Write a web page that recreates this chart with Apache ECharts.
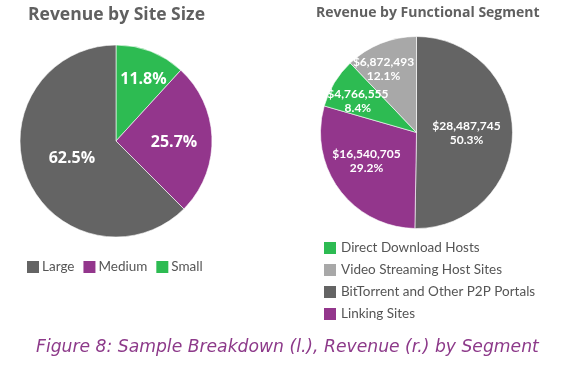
<!DOCTYPE html>
<html>
<head>
<meta charset="utf-8">
<script src="https://cdn.jsdelivr.net/npm/echarts@6/dist/echarts.min.js"></script>
<style>html,body{margin:0;padding:0;background:#fff;}#c{width:566px;height:366px;}</style>
</head>
<body>
<div id="c"></div>
<script>
// Left pie: Revenue by Site Size (percent)
var sizeCategories = ['Small', 'Medium', 'Large'];
var sizeValues = [11.8, 25.7, 62.5];
var sizeLegendOrder = ['Large', 'Medium', 'Small'];

// Right pie: Revenue by Functional Segment (USD)
var segCategories = ['BitTorrent and Other P2P Portals', 'Linking Sites', 'Direct Download Hosts', 'Video Streaming Host Sites'];
var segValues = [28487745, 16540705, 4766555, 6872493];
var segLegendOrder = ['Direct Download Hosts', 'Video Streaming Host Sites', 'BitTorrent and Other P2P Portals', 'Linking Sites'];

var C_DARK = '#646464', C_PURPLE = '#93368c', C_GREEN = '#2dbb52', C_LIGHT = '#a8a8a8';
var sizeColors = [C_GREEN, C_PURPLE, C_DARK];
var segColors = [C_DARK, C_PURPLE, C_GREEN, C_LIGHT];
var sizeOffsets = [[9, -14], [7, 3], [3, -2]];
var segOffsets = [[-1, 0], [-9, -2], [-15, -5], [-14, -16]];

var FONT = 'Lato';
var TFONT = 'Open Sans';
function fmtMoney(v) { return '$' + v.toLocaleString('en-US'); }

var chart = echarts.init(document.getElementById('c'), null, {renderer: 'canvas'});
chart.setOption({
  animation: false,
  backgroundColor: '#fff',
  title: [
    {text: 'Revenue by Site Size', left: 28, top: 6, padding: 0,
     textStyle: {fontFamily: TFONT, fontWeight: 'bold', fontSize: 17.5, color: '#606060'}},
    {text: 'Revenue by Functional Segment', left: 316, top: 6, padding: 0,
     textStyle: {fontFamily: TFONT, fontWeight: 'bold', fontSize: 14, color: '#606060'}},
    {text: 'Figure 8: Sample Breakdown (l.), Revenue (r.) by Segment', left: 36, top: 339, padding: 0,
     textStyle: {fontFamily: 'DejaVu Sans', fontStyle: 'italic', fontWeight: 'normal', fontSize: 17.2, color: '#8d3a8a'}}
  ],
  legend: [
    {data: sizeLegendOrder, left: 27, top: 260, padding: 0, orient: 'horizontal', icon: 'rect',
     itemWidth: 12, itemHeight: 12, itemGap: 9, itemStyle: {borderWidth: 0},
     textStyle: {fontFamily: FONT, fontSize: 13.5, color: '#555', padding: [0, 0, 0, -2]}},
    {data: segLegendOrder, left: 324, top: 241, padding: 0, orient: 'vertical', icon: 'rect',
     itemWidth: 12, itemHeight: 12, itemGap: 8, itemStyle: {borderWidth: 0},
     textStyle: {fontFamily: FONT, fontSize: 13.5, color: '#555', padding: [0, 0, 0, 0]}}
  ],
  series: [
    {type: 'pie', radius: 96, center: [116, 141], startAngle: 90, clockwise: true,
     silent: true, labelLine: {show: false},
     itemStyle: {borderColor: '#fff', borderWidth: 0.6},
     label: {position: 'inside', formatter: '{c}%', color: '#fff', fontFamily: TFONT, fontWeight: 'bold', fontSize: 16},
     data: sizeCategories.map(function (n, i) {
       return {name: n, value: sizeValues[i], itemStyle: {color: sizeColors[i]}, label: {offset: sizeOffsets[i]}};
     })},
    {type: 'pie', radius: 96, center: [416.5, 132.5], startAngle: 90, clockwise: true,
     silent: true, percentPrecision: 1, labelLine: {show: false},
     itemStyle: {borderColor: '#fff', borderWidth: 0.6},
     label: {position: 'inside', color: '#fff', fontFamily: FONT, fontWeight: 'bold', fontSize: 12, lineHeight: 14,
       formatter: function (p) { return fmtMoney(p.value) + '\n' + p.percent.toFixed(1) + '%'; }},
     data: segCategories.map(function (n, i) {
       return {name: n, value: segValues[i], itemStyle: {color: segColors[i]}, label: {offset: segOffsets[i]}};
     })}
  ]
});
</script>
</body>
</html>
